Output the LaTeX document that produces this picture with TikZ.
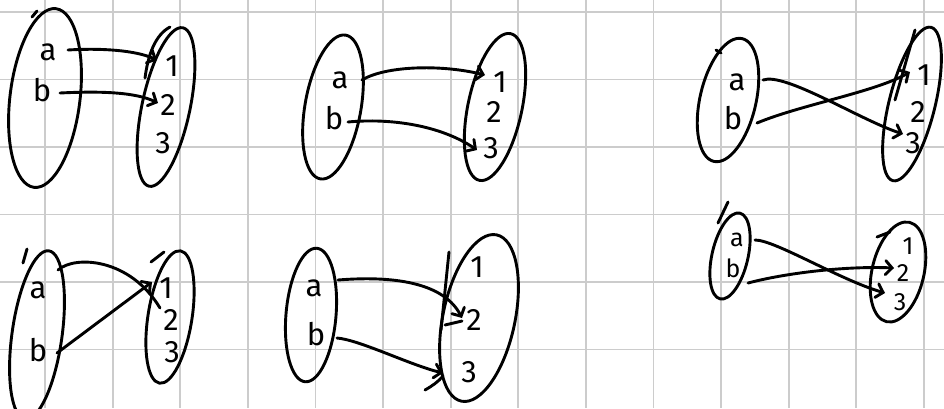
\documentclass[tikz,border=0pt]{standalone}
\usepackage{fontspec}
\setmainfont{Fira Sans}
\usetikzlibrary{shapes.geometric,arrows.meta}
\begin{document}
\begin{tikzpicture}[x=1pt,y=-1pt,
  ink/.style={line width=2.9pt, line cap=round, line join=round, black},
  setshape/.style={ink, draw, ellipse, inner sep=0pt},
  lbl/.style={inner sep=1pt, font=\fontsize{31}{31}\selectfont},
  smalllbl/.style={inner sep=0pt, font=\fontsize{25}{25}\selectfont},
  map/.style={ink, -{Straight Barb[length=6.5pt,width=14pt,line cap=round]}},
  gridline/.style={line width=1.8pt, black!20}]
\useasboundingbox (0,0) rectangle (944,408);
\fill[white] (0,0) rectangle (944,408);
% squared paper
\foreach \i in {0,...,13} \draw[gridline] ({45+67.6*\i},0) -- ({45+67.6*\i},408);
\foreach \j in {0,...,5} \draw[gridline] (0,{12+67.5*\j}) -- (944,{12+67.5*\j});

% ---------- map 1 ----------
\node[setshape, minimum width=70pt, minimum height=180pt, rotate=-7] (A1) at (45,98) {};
\node[setshape, minimum width=48pt, minimum height=162pt, rotate=-12] (B1) at (166,107) {};
\draw[ink] (170,27) .. controls (155,35) and (148,55) .. (145,78);
\draw[ink] (32,17) -- (37,11);
\node[lbl] (a1) at (48,52) {a};
\node[lbl] (b1) at (42,90) {b};
\node[lbl] (n11) at (172,66) {1};
\node[lbl] (n12) at (168,105) {2};
\node[lbl] (n13) at (163,143) {3};
\draw[map] ([shift={(20,-2)}]a1.center) .. controls (100,48) and (135,50) .. ([shift={(-15,-6)}]n11.center);
\draw[map] ([shift={(18,3)}]b1.center) .. controls (100,91) and (135,92) .. ([shift={(-10,-2)}]n12.center);

% ---------- map 2 ----------
\node[setshape, minimum width=56pt, minimum height=146pt, rotate=-10] (A2) at (333,107) {};
\node[setshape, minimum width=54pt, minimum height=150pt, rotate=-12] (B2) at (495,107) {};
\node[lbl] (a2) at (340,80) {a};
\node[lbl] (b2) at (334,118) {b};
\node[lbl] (n21) at (500,82) {1};
\node[lbl] (n22) at (494,112) {2};
\node[lbl] (n23) at (491,148) {3};
\draw[map] ([shift={(22,0)}]a2.center) .. controls (385,66) and (440,64) .. ([shift={(-15,-7)}]n21.center);
\draw[map] ([shift={(14,4)}]b2.center) .. controls (390,118) and (440,125) .. ([shift={(-14,2)}]n23.center);

% ---------- map 3 ----------
\node[setshape, minimum width=56pt, minimum height=126pt, rotate=-13] (A3) at (728,100) {};
\node[setshape, minimum width=46pt, minimum height=158pt, rotate=-14] (B3) at (912,104) {};
\draw[ink] (915,30) -- (895,100);
\draw[ink] (716,50) -- (721,53);
\node[lbl] (a3) at (737,82) {a};
\node[lbl] (b3) at (733,118) {b};
\node[lbl] (n31) at (924,75) {1};
\node[lbl] (n32) at (918,112) {2};
\node[lbl] (n33) at (913,143) {3};
\draw[map] ([shift={(26,-2)}]a3.center) .. controls (785,72) and (860,120) .. ([shift={(-10,-9)}]n33.center);
\draw[map] ([shift={(24,5)}]b3.center) .. controls (800,105) and (875,92) .. ([shift={(-14,-3)}]n31.center);

% ---------- map 4 ----------
\node[setshape, minimum width=50pt, minimum height=170pt, rotate=-8] (A4) at (37,335) {};
\node[setshape, minimum width=44pt, minimum height=134pt, rotate=-9] (B4) at (170,317) {};
\draw[ink] (23,263) -- (27,249);
\draw[ink] (151,262) -- (164,252);
\node[lbl] (a4) at (38,290) {a};
\node[lbl] (b4) at (38,350) {b};
\node[lbl] (n41) at (166,288) {1};
\node[lbl] (n42) at (171,320) {2};
\node[lbl] (n43) at (172,352) {3};
\draw[ink] ([shift={(20,-20)}]a4.center) .. controls (75,255) and (130,258) .. ([shift={(-6,20)}]n41.center);
\draw[map] ([shift={(19,3)}]b4.center) -- ([shift={(-14,-6)}]n41.center);

% ---------- map 5 ----------
\node[setshape, minimum width=50pt, minimum height=134pt, rotate=-5] (A5) at (311,315) {};
\node[setshape, minimum width=72pt, minimum height=170pt, rotate=-12] (B5) at (479,318) {};
\draw[ink] (449,252) -- (441,330);
\draw[ink] (445,325) -- (462,321);
\draw[ink] (425,390) .. controls (432,386) and (438,382) .. (443,376);
\node[lbl] (a5) at (314,288) {a};
\node[lbl] (b5) at (316,334) {b};
\node[lbl] (n51) at (477,267) {1};
\node[lbl] (n52) at (474,320) {2};
\node[lbl] (n53) at (469,372) {3};
\draw[map] ([shift={(24,-8)}]a5.center) .. controls (400,275) and (445,285) .. ([shift={(-12,-2)}]n52.center);
\draw[map] ([shift={(21,4)}]b5.center) .. controls (360,340) and (410,365) .. ([shift={(-26,1)}]n53.center);

% ---------- map 6 ----------
\node[setshape, minimum width=36pt, minimum height=88pt, rotate=-13] (A6) at (730,256) {};
\node[setshape, minimum width=52pt, minimum height=102pt, rotate=-13] (B6) at (898,272) {};
\draw[ink] (718,223) -- (728,202);
\draw[ink] (877,237) -- (890,232);
\node[smalllbl] (a6) at (737,240) {a};
\node[smalllbl] (b6) at (733,268) {b};
\node[smalllbl] (n61) at (908,246) {1};
\node[smalllbl] (n62) at (903,273) {2};
\node[smalllbl] (n63) at (900,302) {3};
\draw[map] ([shift={(18,0)}]a6.center) .. controls (775,240) and (840,280) .. ([shift={(-15,-9)}]n63.center);
\draw[map] ([shift={(15,15)}]b6.center) .. controls (790,272) and (850,266) .. ([shift={(-9,-5)}]n62.center);
\end{tikzpicture}
\end{document}
